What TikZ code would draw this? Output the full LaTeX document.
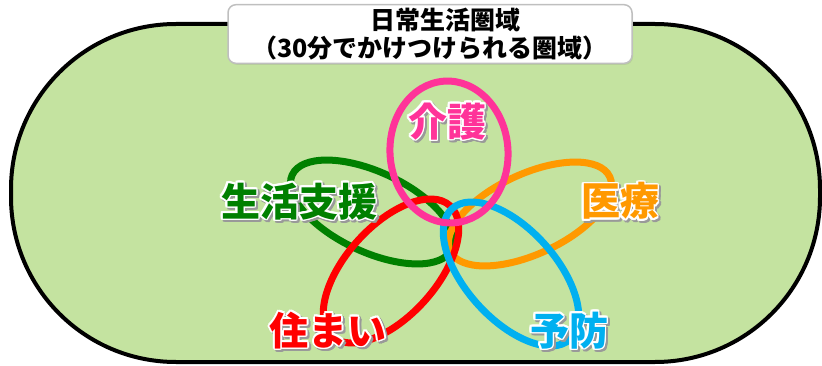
\documentclass[tikz,border=0pt]{standalone}
\usepackage{fontspec}
\usepackage{contour}
\usetikzlibrary{shadows}
\newfontfamily\jp{Noto Sans CJK JP}
\definecolor{field}{RGB}{196,227,160}
\definecolor{kaigo}{RGB}{255,51,153}
\definecolor{shien}{RGB}{0,128,0}
\definecolor{iryo}{RGB}{255,153,0}
\definecolor{sumai}{RGB}{255,0,0}
\definecolor{yobo}{RGB}{0,176,240}
\contourlength{1.6pt}
\newcommand\halo[1]{\leavevmode\rlap{\hspace{2pt}\raisebox{-2pt}{\contour{black!40}{\textcolor{black!40}{#1}}}}\contour{white}{#1}}

\begin{document}
\begin{tikzpicture}[x=1pt,y=-1pt,
    ring/.style={line width=7pt},
    tag/.style={font=\jp\bfseries\fontsize{39}{39}\selectfont,inner sep=0pt}]
      \useasboundingbox (0,0) rectangle (822,366);
      \draw[line width=4pt,fill=field,rounded corners=165pt] (11,24) rectangle (820,362);

      \node[draw=black!25,line width=1.5pt,fill=white,rounded corners=8pt,
        minimum width=404pt,minimum height=56pt,align=center,
        drop shadow={opacity=0.2,shadow xshift=1pt,shadow yshift=-1.5pt},
        font=\jp\bfseries\fontsize{25}{28}\selectfont] (area) at (430,34)
        {\hspace*{30pt}日常生活圏域\\（30分でかけつけられる圏域）};

      \draw[ring,shien,rotate around={-25:(372,212)}] (372,212) ellipse[x radius=88,y radius=40];
      \draw[ring,iryo,rotate around={25:(530,214)}] (530,214) ellipse[x radius=88,y radius=40];
      \draw[ring,sumai,rotate around={48:(391,271)}] (391,271) ellipse[x radius=88,y radius=45];
      \draw[ring,yobo,rotate around={-48:(511,274)}] (511,274) ellipse[x radius=88,y radius=45];
      \draw[ring,kaigo,rotate around={4:(449,152)}] (449,152) ellipse[x radius=59,y radius=71];

      \node[tag,text=kaigo] (kaigo) at (447,123) {\halo{介護}};
      \node[tag,text=shien] (shien) at (299,203) {\halo{生活支援}};
      \node[tag,text=iryo] (iryo) at (620,203) {\halo{医療}};
      \node[tag,text=sumai] (sumai) at (328,332) {\halo{住まい}};
      \node[tag,text=yobo] (yobo) at (569,332) {\halo{予防}};
    \end{tikzpicture}
\end{document}
